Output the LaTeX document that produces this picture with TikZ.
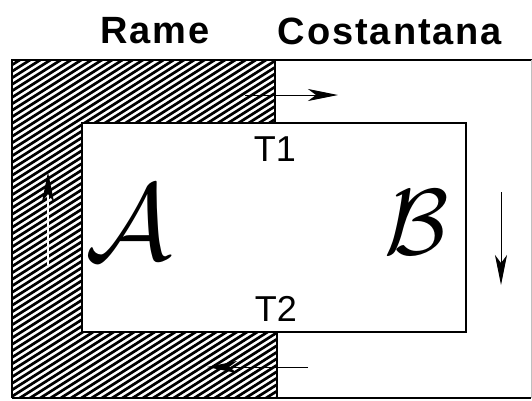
\documentclass[tikz,border=0pt]{standalone}
\usepackage{fontspec}
\setmainfont{Liberation Sans}
\usetikzlibrary{arrows.meta}
\tikzset{
  title/.style={font=\fontsize{38}{42}\selectfont\bfseries\addfontfeature{LetterSpace=5}, inner sep=0pt},
  tlabel/.style={font=\fontsize{36}{40}\selectfont, inner sep=0pt},
  callig/.style={inner sep=0pt},
  flow/.style={line width=1pt, -{Stealth[length=30pt,width=12pt,inset=8pt]}},
  flowwhite/.style={line width=1.4pt, white, -{Stealth[length=30pt,width=12pt,inset=8pt,color=black,fill=black]}},
  border/.style={line width=2pt, black}
}
\begin{document}
\begin{tikzpicture}[x=1pt,y=-1pt]
\useasboundingbox (0,0) rectangle (532,400);
% hatched copper region
\begin{scope}
  \clip (12,60) -- (275,60) -- (275,123) -- (82,123) -- (82,332) -- (277,332) -- (277,398) -- (12,398) -- cycle;
  \foreach \c in {40,46.5,...,640} {
    \draw[line width=2.7pt] (0,\c) -- (300,\c-190);
  }
\end{scope}
% outline
\draw[border] (12,398) -- (12,60) -- (532,60);
\draw[line width=1.5pt] (12,398) -- (531,398);
\draw[line width=0.6pt, black!25] (531,60) -- (531,398);
\draw[border] (275,60) -- (275,123);
\draw[border] (277,332) -- (277,398);
\draw[border] (82,123) rectangle (466,332);
% labels
\node[title] (rame) at (155,31) {Rame};
\node[title] (cost) at (390,31) {Costantana};
\node[tlabel] (t1) at (275,149) {T1};
\node[tlabel] (t2) at (276,309) {T2};
\node[callig] (A) at (129,222) {\resizebox{!}{74pt}{$\mathcal{A}$}};
\node[callig] (B) at (417,222) {\resizebox{!}{64pt}{$\mathcal{B}$}};
% arrows
\coordinate (ts) at (245,95); \coordinate (te) at (338,95);
\coordinate (ls) at (48,265); \coordinate (le) at (48,172);
\coordinate (rs) at (501,192); \coordinate (re) at (501,285);
\coordinate (bs) at (308,367); \coordinate (be) at (207,367);
\draw[flow] (ts) -- (te);
\draw[flowwhite] (ls) -- (le);
\draw[flow] (rs) -- (re);
\draw[flow] (bs) -- (be);
\end{tikzpicture}
\end{document}
